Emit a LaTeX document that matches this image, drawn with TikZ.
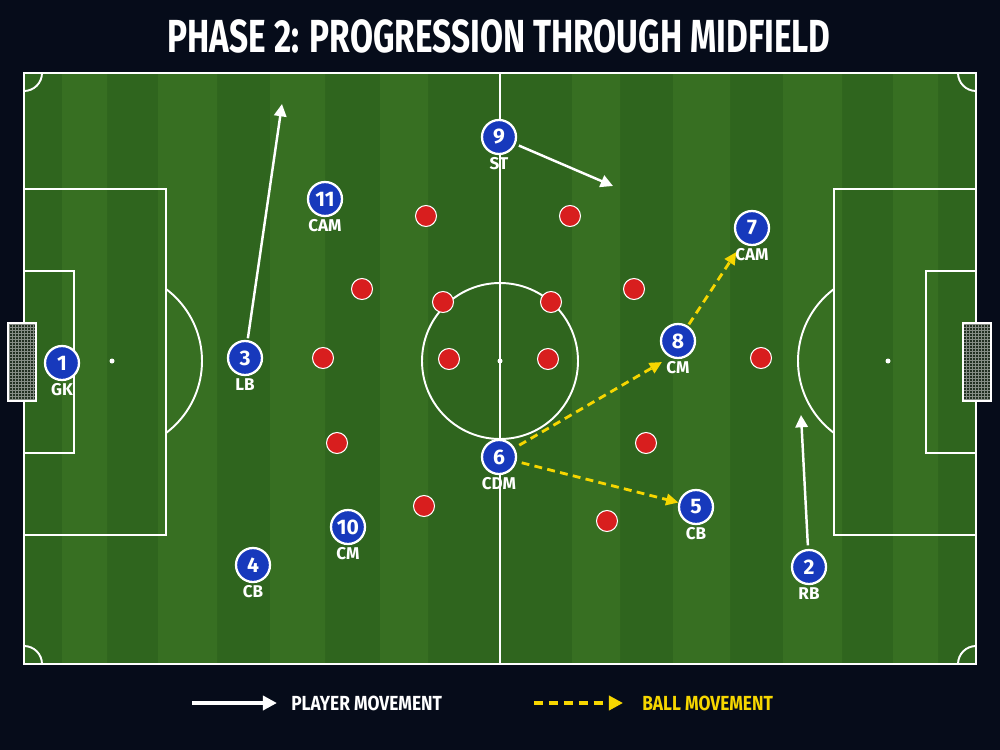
\documentclass[tikz,border=0pt]{standalone}
\usepackage{fontspec}
\setmainfont{Fira Sans}
\newfontfamily\titlefont[FakeStretch=0.72]{Fira Sans}
\newfontfamily\legendfont[FakeStretch=0.85]{Fira Sans}
\usepackage{tikz}
\usetikzlibrary{arrows.meta, positioning}
\definecolor{night}{HTML}{060C1A}
\definecolor{grassdark}{HTML}{2F651E}
\definecolor{grasslight}{HTML}{376F22}
\definecolor{kitblue}{HTML}{1739BC}
\definecolor{kitred}{HTML}{D81E1E}
\definecolor{ballyellow}{HTML}{F6D600}
\definecolor{netgrey}{HTML}{223022}
\tikzstyle{player} = [circle, draw=white, line width=1.3pt, fill=kitblue, minimum size=0.68cm, inner sep=0pt, text=white, font=\bfseries\fontsize{12}{12}\selectfont]
\tikzstyle{rival} = [circle, draw=white, line width=0.6pt, fill=kitred, minimum size=0.42cm, inner sep=0pt]
\tikzstyle{role} = [inner sep=0pt, text=white, font=\bfseries\fontsize{9.7}{10}\selectfont]
\tikzstyle{run} = [-{Triangle[length=7pt,width=7pt]}, white, line width=1.4pt]
\tikzstyle{pass} = [-{Triangle[length=7pt,width=6.5pt]}, ballyellow, line width=1.6pt, dash pattern=on 4.5pt off 3pt]
\tikzstyle{chalk} = [white, line width=1.1pt]

\begin{document}
\begin{tikzpicture}[x=0.02cm, y=-0.02cm]
    \fill[night] (0,0) rectangle (1000,750);
    \useasboundingbox (0,0) rectangle (1000,750);
    \node[text=white, inner sep=0pt] (title) at (499,36) {\titlefont\bfseries\fontsize{26.4}{28}\selectfont PHASE 2: PROGRESSION THROUGH MIDFIELD};

    % grass and stripes
    \fill[grassdark] (24,73) rectangle (976,664);
    \fill[grasslight] (62,73) rectangle (107,664) (158,73) rectangle (217,664)
        (270,73) rectangle (325,664) (380,73) rectangle (428,664)
        (572,73) rectangle (620,664) (673,73) rectangle (730,664)
        (783,73) rectangle (842,664) (893,73) rectangle (938,664);

    % markings
    \draw[chalk] (24,73) rectangle (976,664);
    \draw[chalk] (500,73) -- (500,664);
    \draw[chalk] (500,361) circle (78);
    \fill[white] (500,361) circle (2.5);
    \draw[chalk] (24,189) rectangle (166,535);
    \draw[chalk] (24,271) rectangle (74,453);
    \draw[chalk] (976,189) rectangle (834,535);
    \draw[chalk] (976,271) rectangle (926,453);
    \fill[white] (112,361) circle (2.5);
    \fill[white] (888,361) circle (2.5);
    \begin{scope}
        \clip (166,73) rectangle (300,664) (834,73) rectangle (700,664);
        \draw[chalk] (112,361) circle (90);
        \draw[chalk] (888,361) circle (90);
    \end{scope}
    \begin{scope}
        \clip (24,73) rectangle (976,664);
        \draw[chalk] (24,73) circle (18) (976,73) circle (18) (24,664) circle (18) (976,664) circle (18);
    \end{scope}

    % goals
    \fill[netgrey] (8,323) rectangle (36,401) (963,323) rectangle (991,401);
    \draw[white!45!netgrey, line width=0.3pt, step=0.06cm] (8,323) grid (36,401);
    \draw[white!45!netgrey, line width=0.3pt, step=0.06cm] (963,323) grid (991,401);
    \draw[white, line width=1.3pt] (8,323) rectangle (36,401) (963,323) rectangle (991,401);

    % opponents
    \node[rival] (o1) at (426,216) {};
    \node[rival] (o2) at (570,216) {};
    \node[rival] (o3) at (362,289) {};
    \node[rival] (o4) at (443,302) {};
    \node[rival] (o5) at (551,302) {};
    \node[rival] (o6) at (634,289) {};
    \node[rival] (o7) at (323,358) {};
    \node[rival] (o8) at (449,359) {};
    \node[rival] (o9) at (548,359) {};
    \node[rival] (o10) at (761,358) {};
    \node[rival] (o11) at (337,443) {};
    \node[rival] (o12) at (646,443) {};
    \node[rival] (o13) at (424,506) {};
    \node[rival] (o14) at (607,521) {};

    % our team
    \node[player] (p1) at (62,363) {1};
    \node[role, below=1pt of p1] (r1) {GK};
    \node[player] (p2) at (809,567) {2};
    \node[role, below=1pt of p2] (r2) {RB};
    \node[player] (p3) at (245,358) {3};
    \node[role, below=1pt of p3] (r3) {LB};
    \node[player] (p4) at (253,565) {4};
    \node[role, below=1pt of p4] (r4) {CB};
    \node[player] (p5) at (696,507) {5};
    \node[role, below=1pt of p5] (r5) {CB};
    \node[player] (p6) at (499,457) {6};
    \node[role, below=1pt of p6] (r6) {CDM};
    \node[player] (p7) at (752,228) {7};
    \node[role, below=1pt of p7] (r7) {CAM};
    \node[player] (p8) at (678,341) {8};
    \node[role, below=1pt of p8] (r8) {CM};
    \node[player] (p9) at (499,137) {9};
    \node[role, below=1pt of p9] (r9) {ST};
    \node[player] (p10) at (348,527) {10};
    \node[role, below=1pt of p10] (r10) {CM};
    \node[player] (p11) at (325,199) {11};
    \node[role, below=1pt of p11] (r11) {CAM};

    % runs
    \coordinate (lbrun) at (282,104);
    \coordinate (strun) at (613,186);
    \coordinate (rbrun) at (801,415);
    \draw[run, shorten <=1pt] (p3) -- (lbrun);
    \draw[run, shorten <=2pt] (p9) -- (strun);
    \draw[run, shorten <=2pt] (p2) -- (rbrun);

    % passes
    \coordinate (pass1) at (662,362);
    \draw[pass, shorten <=3pt] (p6) -- (pass1);
    \draw[pass, shorten <=3pt] (p6) -- (p5);
    \draw[pass, shorten <=1pt, shorten >=6pt] (p8) -- (p7);

    % legend
    \node[text=white, anchor=west, inner sep=0pt] (legrun) at (291,703) {\legendfont\bfseries\fontsize{11.6}{12}\selectfont PLAYER MOVEMENT};
    \node[text=ballyellow, anchor=west, inner sep=0pt] (legball) at (642,703) {\legendfont\bfseries\fontsize{11.6}{12}\selectfont BALL MOVEMENT};
    \coordinate (legrunstart) at (192,703);
    \coordinate (legballstart) at (534,703);
    \draw[run, line width=2.1pt, -{Triangle[length=8pt,width=8pt]}, shorten >=8pt] (legrunstart) -- (legrun.west);
    \draw[pass, line width=2.1pt, dash pattern=on 5pt off 3.5pt, -{Triangle[length=8pt,width=8pt]}, shorten >=10.8pt] (legballstart) -- (legball.west);
\end{tikzpicture}
\end{document}
